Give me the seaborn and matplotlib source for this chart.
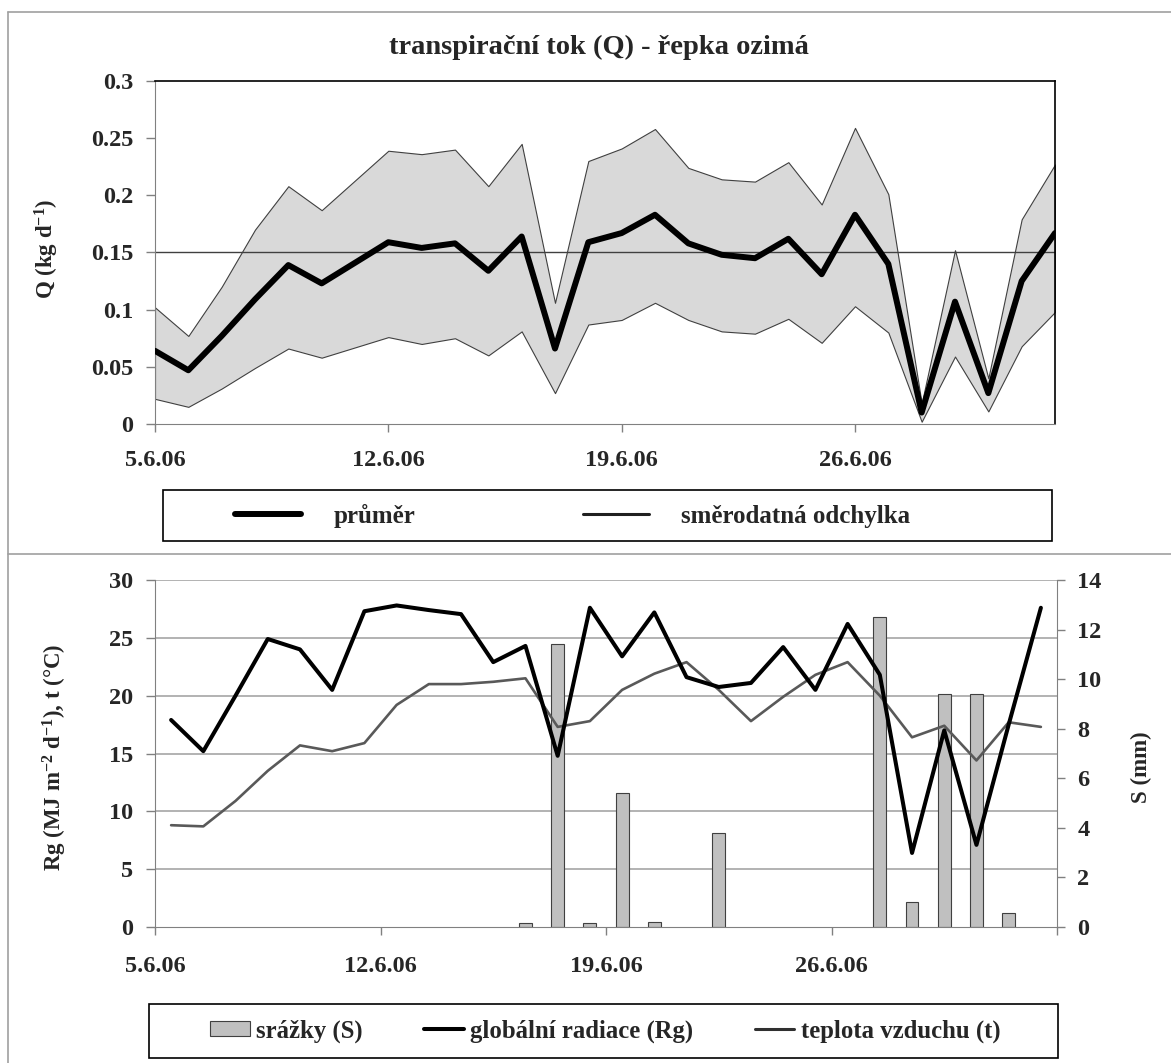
import numpy as np
import pandas as pd
import seaborn as sns
import matplotlib.pyplot as plt
from matplotlib.lines import Line2D
from matplotlib.patches import Patch, Rectangle

# dny mereni 5.6.2006 - 2.7.2006
dny = ['5.6.06', '6.6.06', '7.6.06', '8.6.06', '9.6.06', '10.6.06', '11.6.06',
       '12.6.06', '13.6.06', '14.6.06', '15.6.06', '16.6.06', '17.6.06', '18.6.06',
       '19.6.06', '20.6.06', '21.6.06', '22.6.06', '23.6.06', '24.6.06', '25.6.06',
       '26.6.06', '27.6.06', '28.6.06', '29.6.06', '30.6.06', '1.7.06', '2.7.06']

# transpiracni tok Q (kg/d): prumer a hranice smerodatne odchylky
q_prumer = [0.064, 0.047, 0.077, 0.109, 0.139, 0.123, 0.141, 0.159, 0.154, 0.158,
            0.134, 0.164, 0.066, 0.159, 0.167, 0.183, 0.158, 0.148, 0.145, 0.162,
            0.131, 0.183, 0.140, 0.010, 0.107, 0.027, 0.125, 0.167]
q_horni = [0.102, 0.077, 0.120, 0.170, 0.208, 0.187, 0.213, 0.239, 0.236, 0.240,
           0.208, 0.245, 0.106, 0.230, 0.241, 0.258, 0.224, 0.214, 0.212, 0.229,
           0.192, 0.259, 0.201, 0.018, 0.152, 0.040, 0.179, 0.227]
q_dolni = [0.022, 0.015, 0.031, 0.049, 0.066, 0.058, 0.067, 0.076, 0.070, 0.075,
           0.060, 0.081, 0.027, 0.087, 0.091, 0.106, 0.091, 0.081, 0.079, 0.092,
           0.071, 0.103, 0.080, 0.002, 0.059, 0.011, 0.068, 0.098]

# meteo: globalni radiace, teplota vzduchu, srazky
rg = [17.9, 15.2, 20.0, 24.9, 24.0, 20.5, 27.3, 27.8, 27.4, 27.05, 22.9, 24.3, 14.8, 27.6,
      23.4, 27.2, 21.6, 20.75, 21.1, 24.2, 20.5, 26.2, 21.8, 6.4, 17.0, 7.1, 17.5, 27.6]
teplota = [8.8, 8.7, 10.9, 13.5, 15.7, 15.2, 15.9, 19.2, 21.0, 21.0, 21.2, 21.5, 17.3, 17.8,
           20.5, 21.9, 22.9, 20.5, 17.8, 19.9, 21.8, 22.9, 20.0, 16.4, 17.4, 14.4, 17.7, 17.3]
srazky = [0, 0, 0, 0, 0, 0, 0, 0, 0, 0, 0, 0.15, 11.4, 0.15,
          5.4, 0.2, 0, 3.8, 0, 0, 0, 0, 12.5, 1.0, 9.4, 9.4, 0.55, 0]

sns.set_style('white')
plt.rcParams['font.family'] = ['Liberation Serif', 'DejaVu Serif']
plt.rcParams['font.weight'] = 'bold'
plt.rcParams['mathtext.fontset'] = 'custom'
plt.rcParams['mathtext.rm'] = 'Liberation Serif:bold'
plt.rcParams['mathtext.it'] = 'Liberation Serif:bold'
plt.rcParams['mathtext.bf'] = 'Liberation Serif:bold'

W, H = 1171, 1063
fig = plt.figure(figsize=(W / 100, H / 100), dpi=100)
fs_tick = 17.5
fs_lab = 16.5
seda = '#808080'

# ---------- horni graf: transpiracni tok ----------
df_q = pd.DataFrame({'den': np.arange(len(dny)), 'prumer': q_prumer,
                     'horni': q_horni, 'dolni': q_dolni})
ax1 = fig.add_axes([155 / W, 1 - 424 / H, 900 / W, 343 / H])
ax1.fill_between(df_q['den'], df_q['dolni'], df_q['horni'], facecolor='#d9d9d9',
                 edgecolor='#404040', linewidth=0.8, zorder=1)
ax1.axhline(0.15, color='#404040', lw=1.0, zorder=2)
sns.lineplot(data=df_q, x='den', y='prumer', color='black', lw=4.3, ax=ax1, zorder=3)
ax1.set_xlim(0, len(dny) - 1)
ax1.set_ylim(0, 0.3)
yt = np.round(np.arange(0, 0.301, 0.05), 2)
ax1.set_yticks(yt)
ax1.set_yticklabels([f'{v:g}' for v in yt])
xt = list(range(0, len(dny), 7))
ax1.set_xticks(xt)
ax1.set_xticklabels([dny[i] for i in xt])
ax1.set_xlabel('')
ax1.set_ylabel('Q (kg d$^{-1}$)', fontsize=fs_lab, fontweight='bold')
ax1.yaxis.set_label_coords(-0.104, 0.51)
ax1.tick_params(axis='x', bottom=True, direction='out', length=5.8, width=1, color=seda,
                labelsize=fs_tick, pad=13)
ax1.tick_params(axis='y', left=True, direction='out', length=6.5, width=1, color=seda,
                labelsize=fs_tick, pad=9)
for s in ['left', 'bottom']:
    ax1.spines[s].set_color(seda)
for s in ['top', 'right']:
    ax1.spines[s].set_color('black')
    ax1.spines[s].set_linewidth(1.2)

fig.text(599 / W, 1 - 47 / H, 'transpirační tok (Q) - řepka ozimá', ha='center',
         va='center', fontsize=20.5, fontweight='bold')

leg1 = [Line2D([], [], color='black', lw=4.3), Line2D([], [], color='#202020', lw=2.2)]
fig.legend(leg1, ['průměr', 'směrodatná odchylka'], loc='center left',
           bbox_to_anchor=(235 / W, 1 - 516 / H), frameon=False, ncol=2,
           handlelength=2.64, handletextpad=1.3, columnspacing=6.7, fontsize=18,
           borderpad=0, borderaxespad=0)
fig.add_artist(Rectangle((163 / W, 1 - 541 / H), (1052 - 163) / W, 51 / H,
                         transform=fig.transFigure, fill=False, edgecolor='black', lw=1.2))

# ---------- dolni graf: meteo ----------
xs = np.arange(len(dny)) + 0.5
df_m = pd.DataFrame({'x': xs, 'rg': rg, 't': teplota, 's': srazky})
axb = fig.add_axes([155 / W, 1 - 927 / H, 902 / W, 347 / H])
axs = axb.twinx()
axb.set_zorder(axs.get_zorder() + 1)
axb.patch.set_visible(False)

s_max, l_max = 14, 30
for v in range(5, l_max + 1, 5):
    axs.axhline(v * s_max / l_max, color='#a6a6a6', lw=1.2, zorder=0)

df_bar = df_m[df_m['s'] > 0]
sns.barplot(data=df_bar, x='x', y='s', native_scale=True, width=0.4, color='#c0c0c0',
            saturation=1, edgecolor='#404040', linewidth=0.8, ax=axs, zorder=2)
sns.lineplot(data=df_m, x='x', y='t', color='#595959', lw=1.9, ax=axb)
sns.lineplot(data=df_m, x='x', y='rg', color='black', lw=2.9, ax=axb)

axb.set_xlim(0, len(dny))
axb.set_ylim(0, l_max)
axs.set_ylim(0, s_max)
axb.set_yticks(range(0, l_max + 1, 5))
axs.set_yticks(range(0, s_max + 1, 2))
xtb = list(range(0, len(dny) + 1, 7))
axb.set_xticks(xtb)
axb.set_xticklabels([dny[i] if i < len(dny) else '' for i in xtb])
axb.set_xlabel('')
axs.set_xlabel('')
axb.set_ylabel('Rg (MJ m$^{-2}$ d$^{-1}$), t (°C)', fontsize=fs_lab, fontweight='bold')
axb.yaxis.set_label_coords(-0.0956, 0.49)
axs.set_ylabel('S (mm)', fontsize=fs_lab, fontweight='bold')
axs.yaxis.set_label_coords(1.082, 0.46)
axb.tick_params(axis='x', bottom=True, direction='out', length=5.8, width=1, color=seda,
                labelsize=fs_tick, pad=15)
axb.tick_params(axis='y', left=True, direction='out', length=6.5, width=1, color=seda,
                labelsize=fs_tick, pad=9)
axs.tick_params(axis='y', right=True, direction='out', length=6, width=1, color=seda,
                labelsize=fs_tick, pad=8.5)
for s in ['top', 'right']:
    axb.spines[s].set_visible(False)
for s in ['left', 'bottom']:
    axb.spines[s].set_color(seda)
for s in ['top', 'left', 'bottom']:
    axs.spines[s].set_visible(False)
axs.spines['right'].set_color(seda)

leg2 = [Patch(facecolor='#c0c0c0', edgecolor='#404040', lw=0.8),
        Line2D([], [], color='black', lw=2.9), Line2D([], [], color='#303030', lw=2.2)]
fig.legend(leg2, ['srážky (S)', 'globální radiace (Rg)', 'teplota vzduchu (t)'],
           loc='center left', bbox_to_anchor=(210 / W, 1 - 1031 / H), frameon=False,
           ncol=3, handlelength=1.6, handletextpad=0.25, columnspacing=2.5, fontsize=17.8,
           borderpad=0, borderaxespad=0, handleheight=0.55)
fig.add_artist(Rectangle((149 / W, 1 - 1058 / H), (1058 - 149) / W, 54 / H,
                         transform=fig.transFigure, fill=False, edgecolor='black', lw=1.2))

# ramecek obrazku
ramecek = '#a0a0a0'
fig.add_artist(Line2D([8 / W, 8 / W], [0, 1 - 12 / H], transform=fig.transFigure,
                      color=ramecek, lw=1.2))
fig.add_artist(Line2D([8 / W, 1], [1 - 12 / H, 1 - 12 / H], transform=fig.transFigure,
                      color=ramecek, lw=1.2))
fig.add_artist(Line2D([8 / W, 1], [1 - 554 / H, 1 - 554 / H], transform=fig.transFigure,
                      color=ramecek, lw=1.2))

fig.savefig('out.png', dpi=100)
